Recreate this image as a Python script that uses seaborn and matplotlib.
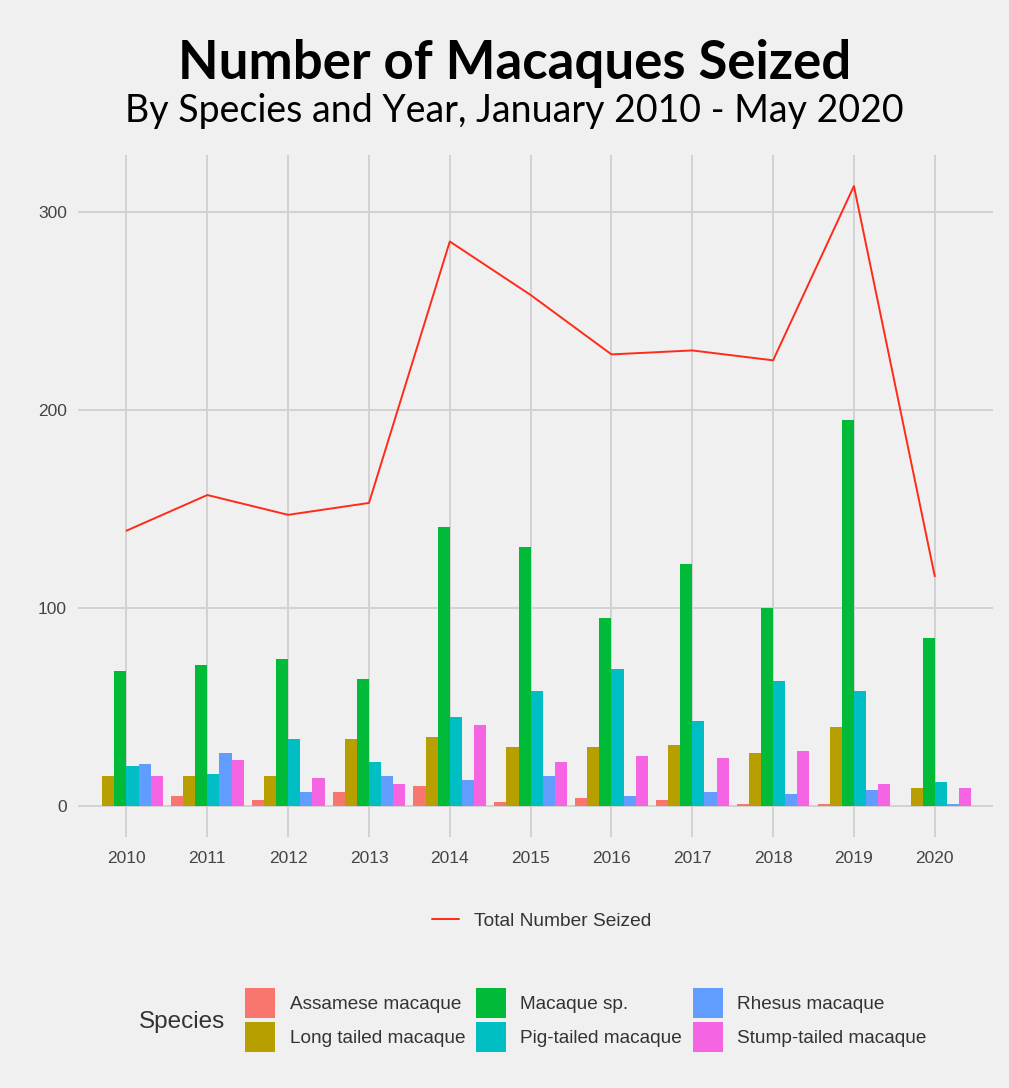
import numpy as np
import pandas as pd
import matplotlib
matplotlib.use("Agg")
import matplotlib.pyplot as plt
import seaborn as sns
from matplotlib.patches import Patch, Rectangle
from matplotlib.lines import Line2D
from matplotlib.legend_handler import HandlerPatch

years = ["2010", "2011", "2012", "2013", "2014", "2015", "2016", "2017", "2018", "2019", "2020"]
species = ["Assamese macaque", "Long tailed macaque", "Macaque sp.",
           "Pig-tailed macaque", "Rhesus macaque", "Stump-tailed macaque"]

assamese = [0, 5, 3, 7, 10, 2, 4, 3, 1, 1, 0]
long_tailed = [15, 15, 15, 34, 35, 30, 30, 31, 27, 40, 9]
macaque_sp = [68, 71, 74, 64, 141, 131, 95, 122, 100, 195, 85]
pig_tailed = [20, 16, 34, 22, 45, 58, 69, 43, 63, 58, 12]
rhesus = [21, 27, 7, 15, 13, 15, 5, 7, 6, 8, 1]
stump_tailed = [15, 23, 14, 11, 41, 22, 25, 24, 28, 11, 9]
total_seized = [139, 157, 147, 153, 285, 258, 228, 230, 225, 313, 116]

colors = ["#F8766D", "#B79F00", "#00BA38", "#00BFC4", "#619CFF", "#F564E3"]

values = [assamese, long_tailed, macaque_sp, pig_tailed, rhesus, stump_tailed]
rows = []
for sp, vals in zip(species, values):
    for yr, v in zip(years, vals):
        rows.append({"Year": yr, "Species": sp, "Count": v})
df = pd.DataFrame(rows)

bg = "#F0F0F0"
sns.set_theme(style="whitegrid")
plt.rcParams["font.family"] = ["Liberation Sans", "DejaVu Sans"]

fig = plt.figure(figsize=(10.09, 10.88), dpi=100, facecolor=bg)
ax = fig.add_axes([0.0773, 0.2307, 0.9068, 0.6268], facecolor=bg)

sns.barplot(data=df, x="Year", y="Count", hue="Species", hue_order=species,
            order=years, palette=colors, width=0.9, gap=0, ax=ax, legend=False,
            saturation=1, edgecolor="none")
sns.lineplot(x=np.arange(len(years)), y=total_seized, color="#FF2A1A",
             linewidth=1.4, ax=ax)

ax.set_xlim(-0.6, len(years) - 1 + 0.72)
ax.set_ylim(-15.65, 328.65)
ax.set_yticks([0, 100, 200, 300])
ax.set_xlabel("")
ax.set_ylabel("")
ax.grid(True, axis="both", color="#D2D2D2", linewidth=1.4)
ax.set_axisbelow(True)
for s in ax.spines.values():
    s.set_visible(False)
ax.tick_params(axis="both", length=0, labelsize=12.5, labelcolor="#444444")
ax.tick_params(axis="y", pad=8)
ax.tick_params(axis="x", pad=10)

fig.text(0.51, 0.942, "Number of Macaques Seized", ha="center", va="center",
         fontsize=38, fontweight="bold", color="black",
         family=["Lato", "DejaVu Sans"])
fig.text(0.51, 0.898, "By Species and Year, January 2010 - May 2020",
         ha="center", va="center", fontsize=27, color="black",
         fontweight="normal", family=["Lato", "DejaVu Sans"])

line_handle = [Line2D([0], [0], color="#FF2A1A", linewidth=1.4)]
fig.legend(handles=line_handle, labels=["Total Number Seized"], loc="center",
           bbox_to_anchor=(0.537, 1 - 921 / 1088), frameon=False, fontsize=13.8,
           handlelength=1.4, handletextpad=0.8, labelcolor="#333333")


# taller key boxes without growing the legend rows
def tall_key(legend, orig_handle, xdescent, ydescent, width, height, fontsize):
    return Rectangle((-xdescent, -ydescent - 2.1), width, height + 4.2)


sp_handles = [Patch(facecolor=c, edgecolor="none") for c in colors]
fig.legend(handles=sp_handles, labels=species, loc="center", ncol=3,
           bbox_to_anchor=(586 / 1009, 1 - 1020 / 1088), frameon=False,
           fontsize=13.7, handlelength=1.58, handleheight=1.58,
           handletextpad=0.74, columnspacing=0.58, labelspacing=0.515,
           labelcolor="#333333",
           handler_map={Patch: HandlerPatch(patch_func=tall_key)})
fig.text(182 / 1009, 1 - 1022 / 1088, "Species", ha="center", va="center",
         fontsize=17.5, color="#333333")

fig.savefig("out.png", dpi=100, facecolor=bg)
